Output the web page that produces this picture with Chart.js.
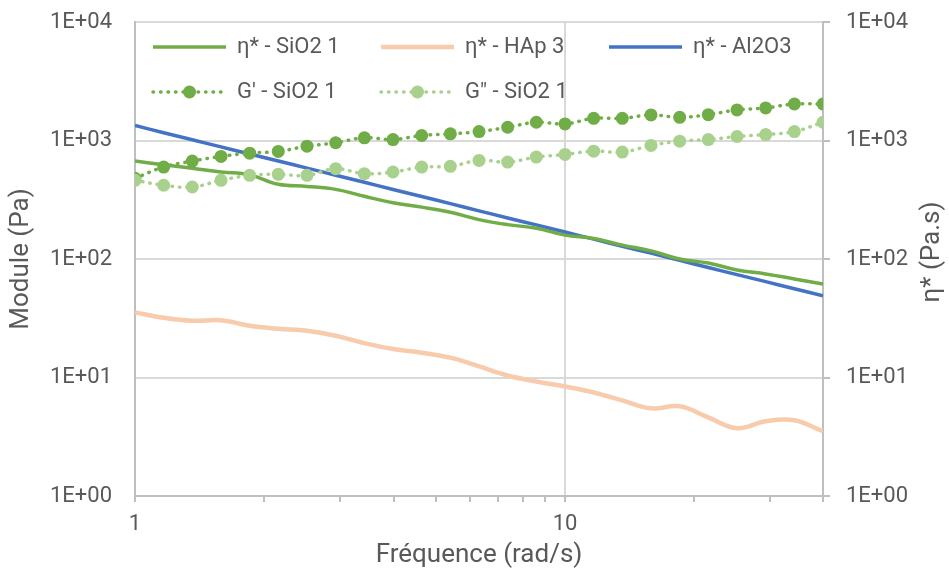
<!DOCTYPE html>
<html>
<head>
<meta charset="utf-8">
<script src="https://cdn.jsdelivr.net/npm/chart.js@4.4.0/dist/chart.umd.min.js"></script>
<style>
  body { margin: 0; background: #fff; }
  #wrap { width: 949px; height: 576px; }
</style>
</head>
<body>
<div id="wrap"><canvas id="chart" width="949" height="576"></canvas></div>
<script>
// Values (log-log, 15 points per decade)
const freq = [1, 1.166, 1.359, 1.585, 1.848, 2.154, 2.512, 2.929, 3.415, 3.981, 4.642, 5.412, 6.310,
  7.356, 8.577, 10, 11.66, 13.59, 15.85, 18.48, 21.54, 25.12, 29.29, 34.15, 39.81];

const gPrime = [480, 597, 670, 734, 782, 809, 896, 957, 1054, 1019, 1102, 1138, 1190,
  1293, 1425, 1381, 1539, 1539, 1644, 1570, 1653, 1811, 1884, 2032, 2032];

const gSecond = [461, 419, 405, 461, 508, 518, 508, 578, 525, 542, 597, 605, 679,
  658, 724, 763, 813, 798, 908, 987, 1019, 1081, 1123, 1190, 1425];

const etaSiO2 = [670, 624, 582, 542, 513, 427, 410, 387, 338, 298, 274, 248, 215,
  195, 182, 159, 149, 131, 117, 100, 92.5, 80.8, 74.8, 67.9, 61.6];

const etaHAp = [35.4, 31.9, 30.1, 30.4, 27.3, 25.8, 24.8, 22.5, 19.5, 17.4, 16.2, 14.7, 12.4,
  10.4, 9.25, 8.40, 7.48, 6.41, 5.49, 5.71, 4.61, 3.73, 4.27, 4.35, 3.52];

const etaAl2O3 = [1337, 1164, 1014, 883, 769, 671, 585, 509, 444, 386, 337, 293, 255,
  222, 194, 169, 147, 128, 112, 97.3, 84.7, 73.8, 64.4, 56.1, 48.9];

const yTicks = [1, 10, 100, 1000, 10000];
const xTicks = [1, 2, 3, 4, 5, 6, 7, 8, 9, 10, 20, 30, 39.81];
const xLabelled = [1, 10];

// Colours
const green = '#70AD47';
const lightGreen = '#A9D18E';
const peach = '#F8CBAD';
const blue = '#4472C4';
const textGrey = '#595959';
const gridGrey = '#D9D9D9';
const axisGrey = '#BFBFBF';

Chart.defaults.font.family = 'Roboto';
Chart.defaults.font.size = 22;
Chart.defaults.color = textGrey;

function pts(values) {
  return freq.map((f, i) => ({ x: f, y: values[i] }));
}

function decadeLabel(v) {
  const e = Math.round(Math.log10(v));
  return '1E+' + String(e).padStart(2, '0');
}

// fixed axis box sizes so the plot area lands where Excel had it
function fitVertical(width) {
  return scale => {
    scale.width = width;
    scale.paddingTop = 12;
    scale.paddingBottom = 12;
  };
}

// Legend drawn by hand so it sits exactly where Excel put it
const legendItems = [
  { label: 'η* - SiO2 1', ds: 2, x: 153, y: 47 },
  { label: 'η* - HAp 3', ds: 3, x: 381, y: 47 },
  { label: 'η* - Al2O3', ds: 4, x: 609, y: 47 },
  { label: "G' - SiO2 1", ds: 1, x: 153, y: 92 },
  { label: 'G" - SiO2 1', ds: 0, x: 381, y: 92 }
];

const customLegend = {
  id: 'customLegend',
  afterDraw(chart) {
    const ctx = chart.ctx;
    ctx.save();
    legendItems.forEach(item => {
      const ds = chart.data.datasets[item.ds];
      ctx.beginPath();
      ctx.strokeStyle = ds.borderColor;
      ctx.lineWidth = ds.borderWidth;
      ctx.lineCap = ds.borderCapStyle || 'butt';
      ctx.setLineDash(ds.borderDash || []);
      ctx.moveTo(item.x, item.y);
      ctx.lineTo(item.x + 73, item.y);
      ctx.stroke();
      ctx.setLineDash([]);
      if (ds.pointRadius > 0) {
        ctx.beginPath();
        ctx.fillStyle = ds.pointBackgroundColor;
        ctx.arc(item.x + 36.5, item.y, ds.pointRadius, 0, Math.PI * 2);
        ctx.fill();
      }
      ctx.fillStyle = textGrey;
      ctx.font = '22px Roboto';
      ctx.textBaseline = 'middle';
      ctx.textAlign = 'left';
      ctx.fillText(item.label, item.x + 84, item.y);
    });
    ctx.restore();
  }
};

// Right axis title reads bottom to top, which Chart.js doesn't do on the right
const rightTitle = {
  id: 'rightTitle',
  afterDraw(chart) {
    const ctx = chart.ctx;
    ctx.save();
    ctx.translate(932, 252);
    ctx.rotate(-Math.PI / 2);
    ctx.fillStyle = textGrey;
    ctx.font = '26px Roboto';
    ctx.textAlign = 'center';
    ctx.textBaseline = 'middle';
    ctx.fillText('η* (Pa.s)', 0, 0);
    ctx.restore();
  }
};

const ctx = document.getElementById('chart').getContext('2d');
new Chart(ctx, {
  type: 'line',
  data: {
    datasets: [
      {
        label: 'G" - SiO2 1',
        data: pts(gSecond),
        yAxisID: 'y',
        borderColor: lightGreen,
        backgroundColor: lightGreen,
        pointBackgroundColor: lightGreen,
        pointBorderWidth: 0,
        pointRadius: 6.5,
        borderWidth: 3.5,
        borderDash: [0.5, 7],
        borderCapStyle: 'round',
        tension: 0.4
      },
      {
        label: "G' - SiO2 1",
        data: pts(gPrime),
        yAxisID: 'y',
        borderColor: green,
        backgroundColor: green,
        pointBackgroundColor: green,
        pointBorderWidth: 0,
        pointRadius: 6.5,
        borderWidth: 3.5,
        borderDash: [0.5, 7],
        borderCapStyle: 'round',
        tension: 0.4
      },
      {
        label: 'η* - SiO2 1',
        data: pts(etaSiO2),
        yAxisID: 'y2',
        borderColor: green,
        borderWidth: 3.5,
        pointRadius: 0,
        tension: 0.4
      },
      {
        label: 'η* - HAp 3',
        data: pts(etaHAp),
        yAxisID: 'y2',
        borderColor: peach,
        borderWidth: 4.5,
        pointRadius: 0,
        tension: 0.4
      },
      {
        label: 'η* - Al2O3',
        data: pts(etaAl2O3),
        yAxisID: 'y2',
        borderColor: blue,
        borderWidth: 3.5,
        pointRadius: 0,
        tension: 0.4
      }
    ]
  },
  options: {
    responsive: false,
    animation: false,
    layout: { padding: { top: 22, left: 0, right: 0, bottom: 0 } },
    plugins: {
      legend: { display: false },
      tooltip: { enabled: false }
    },
    scales: {
      x: {
        type: 'logarithmic',
        min: 1,
        max: 39.81,
        afterBuildTicks: scale => { scale.ticks = xTicks.map(v => ({ value: v })); },
        afterFit: scale => { scale.height = 80; },
        ticks: {
          autoSkip: false,
          maxRotation: 0,
          padding: 9,
          callback: v => xLabelled.includes(v) ? String(v) : ''
        },
        grid: {
          lineWidth: 2,
          color: c => (c.tick && xLabelled.includes(c.tick.value)) ? gridGrey : 'rgba(0,0,0,0)',
          tickColor: axisGrey,
          tickLength: 6
        },
        border: { color: axisGrey, width: 2 },
        title: {
          display: true,
          text: 'Fréquence (rad/s)',
          font: { size: 26 },
          padding: { top: 0, bottom: 5 }
        }
      },
      y: {
        type: 'logarithmic',
        position: 'left',
        min: 1,
        max: 10000,
        afterBuildTicks: scale => { scale.ticks = yTicks.map(v => ({ value: v })); },
        afterFit: fitVertical(135),
        ticks: {
          padding: 23,
          callback: v => decadeLabel(v)
        },
        grid: { color: gridGrey, lineWidth: 2, drawTicks: false },
        border: { color: axisGrey, width: 2 },
        title: {
          display: true,
          text: 'Module (Pa)',
          font: { size: 26 },
          padding: { top: 6, bottom: 0 }
        }
      },
      y2: {
        type: 'logarithmic',
        position: 'right',
        min: 1,
        max: 10000,
        afterBuildTicks: scale => { scale.ticks = yTicks.map(v => ({ value: v })); },
        afterFit: fitVertical(126),
        ticks: {
          padding: 16,
          callback: v => decadeLabel(v)
        },
        grid: { drawOnChartArea: false, color: axisGrey, lineWidth: 2, tickLength: 7 },
        border: { color: axisGrey, width: 2 }
      }
    }
  },
  plugins: [customLegend, rightTitle]
});
</script>
</body>
</html>
